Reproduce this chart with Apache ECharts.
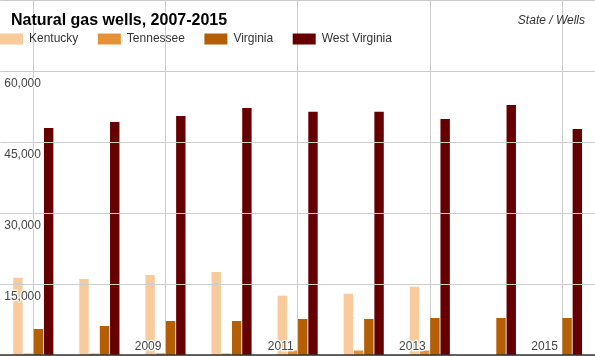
<!DOCTYPE html>
<html>
<head>
<meta charset="utf-8">
<script src="https://cdn.jsdelivr.net/npm/echarts@6/dist/echarts.min.js"></script>
<style>
html,body{margin:0;padding:0;background:#fff;}
#chart{width:595px;height:356px;}
</style>
</head>
<body>
<div id="chart"></div>
<script>
// ---- data ----
const years = ['2007','2008','2009','2010','2011','2012','2013','2014','2015'];
const kentucky = [16330, 16060, 16900, 17530, 12530, 12950, 14430, null, null];
const tennessee = [300, 300, 350, 300, 950, 950, 950, null, null];
const virginia = [5490, 6130, 7180, 7180, 7610, 7610, 7820, 7820, 7820];
const westVirginia = [47960, 49230, 50490, 52180, 51400, 51400, 49860, 52820, 47750];
const seriesNames = ['Kentucky', 'Tennessee', 'Virginia', 'West Virginia'];
const yTicks = [0, 15000, 30000, 45000, 60000, 75000];
const gridYears = ['2007', '2009', '2011', '2013', '2015'];

const colors = ['#f9cb9c', '#e69138', '#b45f06', '#660000'];
const seriesData = [kentucky, tennessee, virginia, westVirginia];

const chart = echarts.init(document.getElementById('chart'), null, {renderer: 'canvas'});

const series = seriesNames.map((name, i) => ({
  name: name,
  type: 'bar',
  data: seriesData[i],
  barWidth: 9.4,
  barGap: '9%',
  itemStyle: {color: colors[i]},
  z: 3
}));

// vertical grid lines at every other year (drawn by a data-less helper series)
series.push({
  name: '_grid',
  type: 'line',
  data: [],
  silent: true,
  z: 1,
  markLine: {
    silent: true,
    symbol: ['none', 'none'],
    z: 1,
    label: {show: false},
    lineStyle: {color: '#cccccc', width: 1, type: 'solid'},
    emphasis: {disabled: true},
    data: gridYears.map(y => ({xAxis: y}))
  }
});

chart.setOption({
  animation: false,
  backgroundColor: '#ffffff',
  textStyle: {fontFamily: 'Liberation Sans, Arial, sans-serif'},
  title: [{
    text: 'Natural gas wells, 2007-2015',
    left: 6,
    top: 8,
    textStyle: {fontSize: 16, fontWeight: 'bold', color: '#000', fontFamily: 'Liberation Sans, Arial, sans-serif',
      textBorderColor: '#fff', textBorderWidth: 2}
  }, {
    text: 'State / Wells',
    right: 5,
    top: 10,
    textStyle: {fontSize: 12, fontWeight: 'normal', fontStyle: 'italic', color: '#333', fontFamily: 'Liberation Sans, Arial, sans-serif'}
  }],
  legend: {
    left: 0,
    top: 33,
    padding: 0,
    icon: 'rect',
    itemWidth: 23,
    itemHeight: 11,
    itemGap: 19.5,
    data: seriesNames,
    textStyle: {fontSize: 12, color: '#333', padding: [0, 0, 0, 1], fontFamily: 'Liberation Sans, Arial, sans-serif'}
  },
  grid: {left: 0, right: 0, top: 0, bottom: 1, containLabel: false},
  xAxis: {
    type: 'category',
    data: years,
    axisTick: {show: false},
    axisLine: {show: true, lineStyle: {color: '#333', width: 1.5}},
    splitLine: {show: false},
    axisLabel: {
      inside: true,
      interval: (i) => i % 2 === 0 && i > 0,
      align: 'right',
      verticalAlign: 'bottom',
      margin: 2,
      padding: [0, 4, 0, 0],
      fontSize: 12,
      color: '#444',
      textBorderColor: '#fff',
      textBorderWidth: 2.5
    },
    z: 10
  },
  yAxis: {
    type: 'value',
    min: yTicks[0],
    max: yTicks[yTicks.length - 1],
    interval: yTicks[1] - yTicks[0],
    axisLine: {show: false},
    axisTick: {show: false},
    splitLine: {lineStyle: {color: '#cccccc', width: 1}},
    axisLabel: {
      inside: true,
      align: 'left',
      verticalAlign: 'top',
      margin: 4,
      padding: [7, 0, 0, 0],
      fontSize: 12,
      color: '#444',
      textBorderColor: '#fff',
      textBorderWidth: 2.5,
      formatter: (v) => (v === 0 || v === 75000) ? '' : v.toLocaleString('en-US')
    },
    z: 10
  },
  series: series
});
</script>
</body>
</html>
